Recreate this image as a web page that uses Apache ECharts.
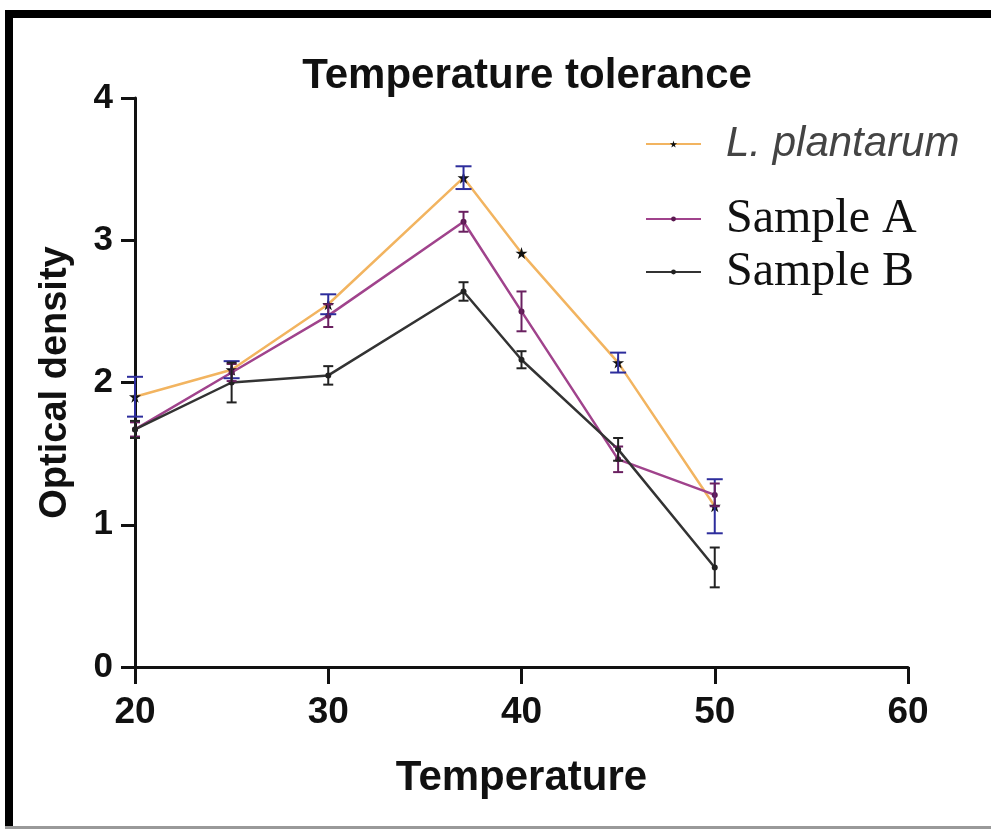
<!DOCTYPE html>
<html><head><meta charset="utf-8">
<script src="https://cdn.jsdelivr.net/npm/echarts/dist/echarts.min.js"></script>
<style>html,body{margin:0;padding:0;background:#fff;}#c{width:991px;height:829px;}</style>
</head><body><div id="c"></div>
<script>
const temps = [20, 25, 30, 37, 40, 45, 50];
const plantarum = [1.90, 2.09, 2.55, 3.44, 2.91, 2.14, 1.13];
const plantarumErr = [0.14, 0.06, 0.07, 0.08, 0.00, 0.07, 0.19];
const sampleA = [1.67, 2.07, 2.47, 3.13, 2.50, 1.46, 1.21];
const sampleAErr = [0.05, 0.06, 0.08, 0.07, 0.14, 0.09, 0.08];
const sampleB = [1.67, 2.00, 2.05, 2.64, 2.16, 1.53, 0.70];
const sampleBErr = [0.06, 0.14, 0.065, 0.065, 0.06, 0.08, 0.14];
const xTicks = [20, 30, 40, 50, 60];
const yTicks = [0, 1, 2, 3, 4];

const FONT = 'Liberation Sans, Arial, sans-serif';
const starPath = 'path://M50,0 L61,35 L98,35 L68,57 L79,91 L50,70 L21,91 L32,57 L2,35 L39,35 Z';

function pts(vals){ return temps.map((t,i)=>[t, vals[i]]); }
function errData(vals, errs){ return temps.map((t,i)=>[t, vals[i]-errs[i], vals[i]+errs[i]]); }
function errSeries(vals, errs, color, cap, name){
  return {
    type:'custom', name:name+' err', z:4, silent:true,
    data: errData(vals, errs),
    renderItem:function(params, api){
      const x = api.value(0), lo = api.value(1), hi = api.value(2);
      if (hi - lo <= 0) return null;
      const p1 = api.coord([x, hi]), p2 = api.coord([x, lo]);
      const style = {stroke:color, lineWidth:2, fill:null};
      return {type:'group', children:[
        {type:'line', shape:{x1:p1[0], y1:p1[1], x2:p2[0], y2:p2[1]}, style:style},
        {type:'line', shape:{x1:p1[0]-cap, y1:p1[1], x2:p1[0]+cap, y2:p1[1]}, style:style},
        {type:'line', shape:{x1:p2[0]-cap, y1:p2[1], x2:p2[0]+cap, y2:p2[1]}, style:style}
      ]};
    }
  };
}

const chart = echarts.init(document.getElementById('c'), null, {renderer:'canvas'});
chart.setOption({
  animation:false,
  backgroundColor:'#fff',
  title:{text:'Temperature tolerance', left:522, textAlign:'center', top:50,
    textStyle:{fontFamily:FONT, fontWeight:'bold', fontSize:42, color:'#111'}},
  grid:{left:135, right:83, top:98, bottom:162},
  legend:[
    {data:['L. plantarum'], left:640, top:118, orient:'vertical', itemWidth:55, itemHeight:9,
      textStyle:{fontFamily:FONT, fontStyle:'italic', fontSize:42, color:'#444', padding:[0,0,0,20]}},
    {data:['Sample A'], left:640, top:190, orient:'vertical', itemWidth:55, itemHeight:6,
      textStyle:{fontFamily:'Liberation Serif, Times New Roman, serif', fontSize:48, color:'#111', padding:[0,0,0,20]}},
    {data:['Sample B'], left:640, top:243, orient:'vertical', itemWidth:55, itemHeight:6,
      textStyle:{fontFamily:'Liberation Serif, Times New Roman, serif', fontSize:48, color:'#111', padding:[0,0,0,20]}}
  ],
  xAxis:{type:'value', min:20, max:60, interval:10,
    name:'Temperature', nameLocation:'middle', nameGap:90,
    nameTextStyle:{fontFamily:FONT, fontWeight:'bold', fontSize:42, color:'#111'},
    axisLine:{show:true, onZero:false, lineStyle:{color:'#111', width:3}},
    axisTick:{show:true, inside:false, length:17, lineStyle:{color:'#111', width:3}},
    axisLabel:{margin:27, fontFamily:FONT, fontWeight:'bold', fontSize:37, color:'#111',
      formatter:function(v){ return xTicks.indexOf(v) >= 0 ? String(v) : ''; }},
    splitLine:{show:false}},
  yAxis:{type:'value', min:0, max:4, interval:1,
    name:'Optical density', nameLocation:'middle', nameGap:60, nameRotate:90,
    nameTextStyle:{fontFamily:FONT, fontWeight:'bold', fontSize:38, color:'#111'},
    axisLine:{show:true, onZero:false, lineStyle:{color:'#111', width:3}},
    axisTick:{show:true, inside:false, length:14, lineStyle:{color:'#111', width:3}},
    axisLabel:{margin:22, fontFamily:FONT, fontWeight:'bold', fontSize:35, color:'#111',
      formatter:function(v){ return yTicks.indexOf(v) >= 0 ? String(v) : ''; }},
    splitLine:{show:false}},
  graphic:[
    {type:'rect', shape:{x:5, y:10, width:986, height:8}, style:{fill:'#000'}, z:100},
    {type:'rect', shape:{x:5, y:10, width:8, height:819}, style:{fill:'#000'}, z:100},
    {type:'rect', shape:{x:5, y:826, width:986, height:3}, style:{fill:'#999'}, z:100}
  ],
  series:[
    {name:'L. plantarum', type:'line', data:pts(plantarum), z:2,
      lineStyle:{color:'#f2b460', width:2.5}, itemStyle:{color:'#111'},
      symbol:starPath, symbolSize:12},
    {name:'Sample A', type:'line', data:pts(sampleA), z:3,
      lineStyle:{color:'#a0438c', width:2.5}, itemStyle:{color:'#5a1a50'},
      symbol:'circle', symbolSize:6},
    {name:'Sample B', type:'line', data:pts(sampleB), z:3,
      lineStyle:{color:'#333', width:2.5}, itemStyle:{color:'#222'},
      symbol:'circle', symbolSize:6},
    errSeries(plantarum, plantarumErr, '#2d2d9c', 8, 'L. plantarum'),
    errSeries(sampleA, sampleAErr, '#6a2060', 5, 'Sample A'),
    errSeries(sampleB, sampleBErr, '#222', 5, 'Sample B')
  ]
});
</script></body></html>
